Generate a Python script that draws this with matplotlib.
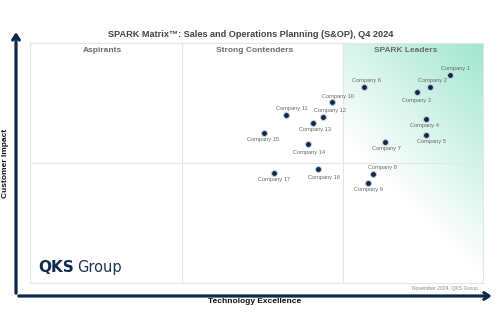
import numpy as np
import matplotlib.pyplot as plt
from matplotlib.patches import FancyArrowPatch

plt.rcParams["font.family"] = ["Liberation Sans", "DejaVu Sans"]

# vendor positions on the 0-100 matrix (technology excellence, customer impact)
companies = ["Company 1", "Company 2", "Company 3", "Company 4", "Company 5",
             "Company 6", "Company 7", "Company 8", "Company 9", "Company 10",
             "Company 11", "Company 12", "Company 13", "Company 14", "Company 15",
             "Company 16", "Company 17"]
tech_excellence = [92.7, 88.3, 85.4, 87.4, 87.4, 73.7, 78.4, 75.7, 74.6, 66.7,
                   56.5, 64.7, 62.5, 61.4, 51.7, 63.6, 53.9]
customer_impact = [86.7, 81.7, 79.6, 68.3, 61.7, 81.7, 58.8, 45.4, 41.7, 75.4,
                   70.0, 69.2, 66.7, 57.9, 62.5, 47.5, 45.8]

# label offsets in points relative to each dot
label_dx = [4, 1.5, 0, -1, 4, 2, 1, 7, 0, 4.5, 4.5, 5, 1, 1, -1, 4.5, 0]
label_dy = [5, 5, -6, -4.5, -5, 4.5, -4.5, 4.5, -4.5, 4, 5, 4.5, -5, -6, -4.5, -6, -4.5]

quadrants = ["Aspirants", "Strong Contenders", "SPARK Leaders"]
quadrant_x = [16, 49.5, 83]
x_split = [33.6, 69.1]
y_split = 50.2

navy = "#0d2a4d"

fig = plt.figure(figsize=(5, 3.34), dpi=100)
ax = fig.add_axes([0.06, 0.1527, 0.906, 0.7183])
ax.set_xlim(0, 100)
ax.set_ylim(0, 100)
ax.set_xticks([])
ax.set_yticks([])
for s in ax.spines.values():
    s.set_color("#e6e6e6")
    s.set_linewidth(0.8)

# green wash over the leaders zone, diagonal fade toward the lower left
nx, ny = 200, 300
u = np.linspace(0, 1, nx)[None, :]
v = np.linspace(0, 1, ny)[:, None]
t = np.clip((140 * u + 240 * v - 145) / 235, 0, 1)
rgba = np.zeros((ny, nx, 4))
rgba[..., 0] = 160 / 255
rgba[..., 1] = 230 / 255
rgba[..., 2] = 208 / 255
rgba[..., 3] = t
ax.imshow(rgba, extent=[x_split[1], 100, 0, 100], origin="lower",
          aspect="auto", zorder=0, interpolation="bilinear")

for xs in x_split:
    ax.axvline(xs, color="#e6e6e6", lw=0.8, zorder=1)
ax.axhline(y_split, color="#e6e6e6", lw=0.8, zorder=1)

for name, qx in zip(quadrants, quadrant_x):
    ax.text(qx, 97, name, ha="center", va="center", fontsize=6.0,
            fontweight="bold", color="#6a6a6a")

ax.scatter(tech_excellence, customer_impact, s=19, color=navy,
           edgecolors="#c9ced6", linewidths=0.8, zorder=3)
for name, x, y, dx, dy in zip(companies, tech_excellence, customer_impact,
                              label_dx, label_dy):
    ax.annotate(name, (x, y), xytext=(dx, dy), textcoords="offset points",
                ha="center", va="center", fontsize=4.1, color="#666666",
                zorder=4)

ax.text(1.9, 6.3, "QKS", fontsize=11, fontweight="bold", color=navy,
        ha="left", va="center", family="DejaVu Sans")
ax.text(10.4, 6.3, "Group", fontsize=10.5, color="#1f3550",
        ha="left", va="center", family="DejaVu Sans")

# axis arrows
style = "->,head_length=0.45,head_width=0.3"
fig.add_artist(FancyArrowPatch((0.032, 0.1138), (0.032, 0.912),
                               transform=fig.transFigure, arrowstyle=style,
                               lw=2.3, color=navy, mutation_scale=8))
fig.add_artist(FancyArrowPatch((0.032, 0.1138), (0.989, 0.1138),
                               transform=fig.transFigure, arrowstyle=style,
                               lw=2.3, color=navy, mutation_scale=8))

fig.text(0.502, 0.898, "SPARK Matrix\u2122: Sales and Operations Planning (S&OP), Q4 2024",
         ha="center", va="center", fontsize=6.6, fontweight="bold", color="#444444")
fig.text(0.012, 0.512, "Customer Impact", rotation=90, ha="center", va="center",
         fontsize=6.0, fontweight="bold", color="#111111")
fig.text(0.51, 0.096, "Technology Excellence", ha="center", va="center",
         fontsize=6.0, fontweight="bold", color="#111111")
fig.text(0.955, 0.135, "November 2024, QKS Group", ha="right", va="center",
         fontsize=3.7, color="#888888")

fig.savefig("out.png", dpi=100)
